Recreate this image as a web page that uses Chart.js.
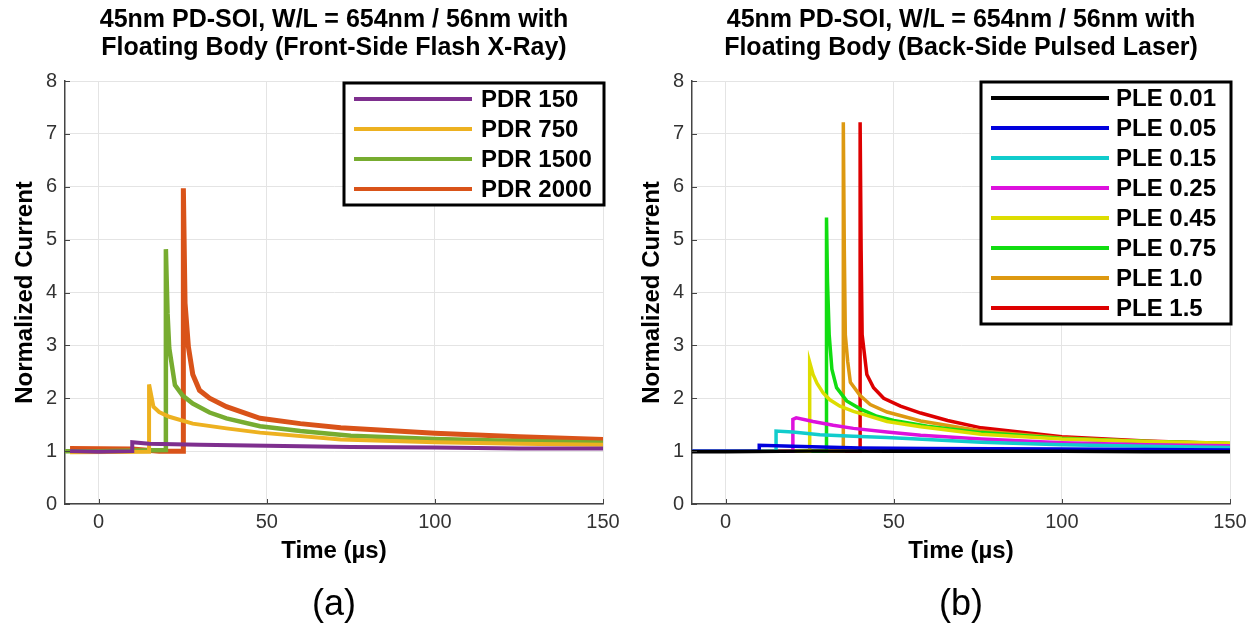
<!DOCTYPE html>
<html>
<head>
<meta charset="utf-8">
<script src="https://cdn.jsdelivr.net/npm/chart.js@4.4.1/dist/chart.umd.min.js"></script>
<style>
body { margin:0; background:#fff; font-family:"Liberation Sans", Arial, sans-serif; }
#wrap { position:relative; width:1254px; height:634px; }
.panel { position:absolute; top:0; width:627px; height:634px; }
.panel canvas { position:absolute; left:0; top:0; }
.title { position:absolute; left:65px; width:538px; top:4px; text-align:center; font-weight:bold; font-size:25px; line-height:28px; color:#000; }
.cap { position:absolute; left:65px; width:538px; top:582px; text-align:center; font-size:36px; line-height:42px; color:#000; }
</style>
</head>
<body>
<div id="wrap">
  <div class="panel" style="left:0">
    <canvas id="chartA" width="627" height="634"></canvas>
    <div class="title">45nm PD-SOI, W/L = 654nm / 56nm with<br>Floating Body (Front-Side Flash X-Ray)</div>
    <div class="cap">(a)</div>
  </div>
  <div class="panel" style="left:627px">
    <canvas id="chartB" width="627" height="634"></canvas>
    <div class="title">45nm PD-SOI, W/L = 654nm / 56nm with<br>Floating Body (Back-Side Pulsed Laser)</div>
    <div class="cap">(b)</div>
  </div>
</div>
<script>
//axis ticks
const xTicks = [0, 50, 100, 150];
const yTicks = [0, 1, 2, 3, 4, 5, 6, 7, 8];

//(a) front-side flash x-ray, time in us / normalized current
const pdrLabels = ["PDR 150", "PDR 750", "PDR 1500", "PDR 2000"];
const pdrColors = ["#7E2F8E", "#EDB120", "#77AC30", "#D95319"];

const pdr150T = [-8.5, 0, 10, 10, 15, 30, 50, 75, 100, 125, 150];
const pdr150I = [1.0, 0.99, 1.0, 1.17, 1.14, 1.12, 1.10, 1.08, 1.07, 1.05, 1.05];

const pdr750T = [-8.5, 15, 15, 16.3, 18, 21, 28, 38, 48, 72, 100, 125, 150];
const pdr750I = [0.98, 0.99, 2.26, 1.84, 1.74, 1.65, 1.52, 1.43, 1.35, 1.22, 1.17, 1.14, 1.12];

const pdr1500T = [-10, 0, 20, 20, 20.5, 21, 22.7, 25, 28, 33, 38, 48, 60, 75, 100, 125, 150];
const pdr1500I = [1.0, 1.0, 1.02, 4.82, 3.6, 2.95, 2.25, 2.05, 1.9, 1.73, 1.62, 1.47, 1.38, 1.29, 1.23, 1.19, 1.16];

const pdr2000T = [-8.5, 10, 18, 25.2, 25.2, 25.7, 26.7, 28, 30, 33, 38, 48, 60, 72, 100, 125, 150];
const pdr2000I = [1.05, 1.04, 1.0, 1.0, 5.97, 3.8, 2.97, 2.45, 2.15, 2.0, 1.84, 1.62, 1.52, 1.44, 1.34, 1.27, 1.22];

//(b) back-side pulsed laser
const pleLabels = ["PLE 0.01", "PLE 0.05", "PLE 0.15", "PLE 0.25", "PLE 0.45", "PLE 0.75", "PLE 1.0", "PLE 1.5"];
const pleColors = ["#000000", "#0000DD", "#11CCCC", "#DD11DD", "#DDDD00", "#11DD11", "#DD9911", "#DD0000"];

const ple001T = [-10, 0, 25, 50, 75, 100, 125, 150];
const ple001I = [0.99, 0.99, 1.0, 1.0, 1.0, 1.0, 0.99, 0.99];

const ple005T = [-10, 10, 10, 20, 40, 60, 100, 150];
const ple005I = [1.0, 1.0, 1.11, 1.09, 1.06, 1.05, 1.04, 1.02];

const ple015T = [-10, 15, 15, 20, 28, 38, 48, 60, 76, 100, 125, 150];
const ple015I = [1.0, 1.0, 1.38, 1.36, 1.31, 1.28, 1.26, 1.22, 1.17, 1.12, 1.09, 1.07];

const ple025T = [-10, 20, 20, 21, 26, 32, 38, 48, 58, 76, 100, 125, 150];
const ple025I = [1.0, 1.0, 1.6, 1.63, 1.56, 1.49, 1.43, 1.36, 1.30, 1.23, 1.16, 1.12, 1.10];

const ple045T = [-10, 25, 25, 26, 27.2, 29, 31, 34, 38, 48, 58, 76, 100, 125, 150];
const ple045I = [1.0, 1.0, 2.68, 2.45, 2.28, 2.1, 1.97, 1.85, 1.75, 1.56, 1.46, 1.32, 1.23, 1.18, 1.15];

const ple075T = [-10, 30, 30, 30.3, 30.8, 31.6, 33, 36, 40, 45, 50, 60, 76, 100, 125, 150];
const ple075I = [1.0, 1.0, 5.42, 4.2, 3.2, 2.55, 2.2, 1.95, 1.8, 1.66, 1.58, 1.47, 1.35, 1.24, 1.18, 1.15];

const ple10T = [-10, 35, 35, 35.3, 35.6, 36.3, 37.1, 40, 43, 48, 58, 76, 100, 125, 150];
const ple10I = [1.0, 1.0, 7.22, 4.8, 3.2, 2.7, 2.3, 2.05, 1.88, 1.74, 1.57, 1.38, 1.25, 1.18, 1.13];

const ple15T = [-10, 40, 40, 40.3, 40.6, 42, 44, 47, 52, 58, 66, 76, 100, 125, 150];
const ple15I = [1.0, 1.0, 7.22, 4.8, 3.2, 2.45, 2.2, 2.0, 1.85, 1.72, 1.58, 1.44, 1.27, 1.19, 1.14];

const fam = '"Liberation Sans", Arial, sans-serif';

//legend box drawn inside the plot, top right
const boxLegend = {
  id: 'boxLegend',
  afterDatasetsDraw(chart, args, opts) {
    const ctx = chart.ctx, a = chart.chartArea;
    const sets = chart.data.datasets;
    const h = sets.length * opts.rowH + 2;
    const x0 = a.right + 1 - opts.width, y0 = a.top + opts.dy;
    ctx.save();
    ctx.fillStyle = '#fff';
    ctx.fillRect(x0, y0, opts.width, h);
    ctx.lineWidth = 3;
    ctx.strokeStyle = '#000';
    ctx.strokeRect(x0, y0, opts.width, h);
    ctx.font = 'bold 24px ' + fam;
    ctx.textBaseline = 'middle';
    sets.forEach((ds, i) => {
      const y = y0 + 1 + opts.rowH * (i + 0.5);
      ctx.strokeStyle = ds.borderColor;
      ctx.lineWidth = 4;
      ctx.beginPath();
      ctx.moveTo(x0 + 10, y);
      ctx.lineTo(x0 + 128, y);
      ctx.stroke();
      ctx.fillStyle = '#000';
      ctx.fillText(ds.label, x0 + opts.textX, y + 1);
    });
    ctx.restore();
  }
};

//small tick marks pointing into the plot (matlab style)
const innerTicks = {
  id: 'innerTicks',
  afterDraw(chart) {
    const ctx = chart.ctx, a = chart.chartArea;
    const xs = chart.scales.x, ys = chart.scales.y;
    ctx.save();
    ctx.strokeStyle = '#444';
    ctx.lineWidth = 1;
    ctx.beginPath();
    xTicks.forEach(v => {
      const px = Math.round(xs.getPixelForValue(v)) + 0.5;
      ctx.moveTo(px, a.bottom);
      ctx.lineTo(px, a.bottom - 5);
    });
    yTicks.forEach(v => {
      const py = Math.round(ys.getPixelForValue(v)) + 0.5;
      ctx.moveTo(a.left, py);
      ctx.lineTo(a.left + 5, py);
    });
    ctx.stroke();
    ctx.restore();
  }
};

function makeSets(labels, colors, times, vals, widths) {
  return labels.map((lab, i) => ({
    label: lab,
    data: times[i].map((t, j) => ({x: t, y: vals[i][j]})),
    borderColor: colors[i],
    borderWidth: widths[i],
    pointRadius: 0,
    tension: 0,
    fill: false
  }));
}

function makeChart(id, sets, legendOpts) {
  return new Chart(id, {
    type: 'line',
    data: { datasets: sets },
    options: {
      responsive: false,
      devicePixelRatio: 1,
      animation: false,
      layout: { padding: { left: 7, right: 24, top: 81, bottom: 64 } },
      plugins: {
        legend: { display: false },
        tooltip: { enabled: false },
        boxLegend: legendOpts
      },
      scales: {
        x: {
          type: 'linear', min: -10, max: 150,
          afterBuildTicks: s => { s.ticks = xTicks.map(v => ({value: v})); },
          afterFit: s => { s.height = 66; },
          grid: { color: '#e4e4e4', drawTicks: false },
          border: { color: '#444', width: 1.5 },
          ticks: { font: { size: 20, family: fam }, color: '#333', padding: 6 },
          title: { display: true, text: 'Time (µs)', color: '#000', font: { size: 24, weight: 'bold', family: fam }, padding: { top: 4, bottom: 4 } }
        },
        y: {
          min: 0, max: 8,
          afterBuildTicks: s => { s.ticks = yTicks.map(v => ({value: v})); },
          afterFit: s => { s.width = 58; },
          grid: { color: '#e4e4e4', drawTicks: false },
          border: { color: '#444', width: 1.5 },
          ticks: { font: { size: 20, family: fam }, color: '#333', padding: 8 },
          title: { display: true, text: 'Normalized Current', color: '#000', font: { size: 24, weight: 'bold', family: fam }, padding: { top: 4, bottom: 4 } }
        }
      }
    },
    plugins: [boxLegend, innerTicks]
  });
}

const chartA = makeChart('chartA',
  makeSets(pdrLabels, pdrColors,
    [pdr150T, pdr750T, pdr1500T, pdr2000T],
    [pdr150I, pdr750I, pdr1500I, pdr2000I],
    [4, 4, 4.5, 5]),
  { width: 260, rowH: 30, dy: 2, textX: 137 });

const chartB = makeChart('chartB',
  makeSets(pleLabels, pleColors,
    [ple001T, ple005T, ple015T, ple025T, ple045T, ple075T, ple10T, ple15T],
    [ple001I, ple005I, ple015I, ple025I, ple045I, ple075I, ple10I, ple15I],
    [3.5, 3.5, 3.5, 3.5, 3.5, 3.5, 3.5, 3.5]),
  { width: 250, rowH: 30, dy: 1, textX: 135 });
</script>
</body>
</html>
